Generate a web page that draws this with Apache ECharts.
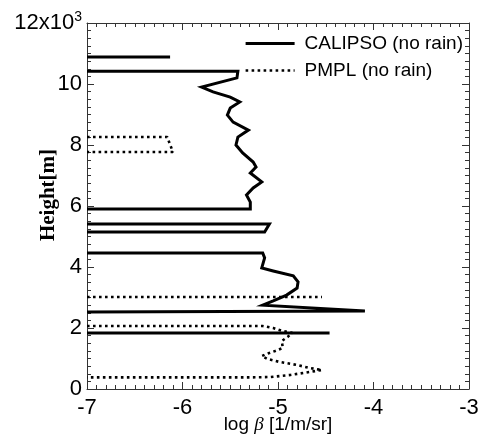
<!DOCTYPE html>
<html>
<head>
<meta charset="utf-8">
<script src="https://cdn.jsdelivr.net/npm/echarts@6/dist/echarts.min.js"></script>
<style>
html,body{margin:0;padding:0;background:#fff;}
#chart{width:483px;height:437px;}
</style>
</head>
<body>
<div id="chart"></div>
<script>
// ---- data (null = break between separate profile segments) ----
var seriesNames = ['CALIPSO (no rain)', 'PMPL (no rain)'];

var calipsoLogBeta = [
  -7, -6.13, null,
  -7, -5.42, -5.43, -5.80, -5.68, -5.50, -5.40, -5.50, -5.53, -5.47, -5.31, -5.42, -5.44,
  -5.37, -5.26, -5.23, -5.29, -5.17, -5.26, -5.33, -5.29, -5.29, -7, null,
  -7, -5.09, -5.14, -7, null,
  -7, -5.16, -5.14, -5.17, -5.05, -4.84, -4.79, -4.80, -4.91, -5.05, -5.16, -4.09, -7, null,
  -7, -4.46
];
var calipsoHeight = [
  10885, 10885, null,
  10420, 10420, 10200, 9900, 9740, 9570, 9410, 9210, 8980, 8750, 8490, 8260, 8000,
  7740, 7440, 7280, 7080, 6790, 6590, 6360, 6130, 5900, 5900, null,
  5410, 5410, 5150, 5150, null,
  4460, 4460, 4300, 3970, 3870, 3710, 3510, 3310, 3080, 2890, 2750, 2560, 2525, null,
  1840, 1840
];

var pmplLogBeta = [
  -7, -6.16, -6.10, -7, null,
  -7, -4.54, null,
  -7, -5.16, -5.05, -4.95, -4.85, -4.90, -4.96, -4.95, -5.03, -5.12, -5.17, -5.11,
  -4.98, -4.80, -4.67, -4.54, -4.67, -4.87, -5.08, -5.29, -7
];
var pmplHeight = [
  8260, 8260, 7770, 7770, null,
  3016, 3016, null,
  2066, 2066, 2000, 1900, 1840, 1705, 1575, 1345, 1245, 1150, 1080, 985,
  885, 787, 690, 623, 557, 460, 393, 380, 380
];

var xTickLabels = ['-7', '-6', '-5', '-4', '-3'];
var yTickLabels = ['0', '2', '4', '6', '8', '10', '{a|12x10}{b|3}'];

// ---- build ----
function zip(xs, ys) {
  var out = [];
  for (var i = 0; i < xs.length; i++) {
    if (xs[i] === null || ys[i] === null) out.push(['-', '-']);
    else out.push([xs[i], ys[i]]);
  }
  return out;
}

var FONT = 'Liberation Sans';
var frameColor = '#333';
var solidStyle = { color: '#000', width: 3, type: 'solid', join: 'miter' };
var dotStyle = { color: '#000', width: 2.6, type: [2.6, 3.4], cap: 'butt' };

function baseX(extra) {
  var o = {
    type: 'value', min: -7, max: -3, interval: 1,
    axisLine: { show: true, onZero: false, lineStyle: { color: frameColor, width: 1 } },
    axisTick: { show: true, inside: true, length: 7, lineStyle: { color: frameColor } },
    minorTick: { show: true, splitNumber: 10, length: 4, lineStyle: { color: frameColor } },
    splitLine: { show: false }, minorSplitLine: { show: false },
    axisLabel: { show: false }
  };
  for (var k in extra) o[k] = extra[k];
  return o;
}
function baseY(extra) {
  var o = {
    type: 'value', min: 0, max: 12000, interval: 2000,
    axisLine: { show: true, onZero: false, lineStyle: { color: frameColor, width: 1 } },
    axisTick: { show: true, inside: true, length: 7, lineStyle: { color: frameColor } },
    minorTick: { show: true, splitNumber: 8, length: 4, lineStyle: { color: frameColor } },
    splitLine: { show: false }, minorSplitLine: { show: false },
    axisLabel: { show: false }
  };
  for (var k in extra) o[k] = extra[k];
  return o;
}

var chart = echarts.init(document.getElementById('chart'), null, { renderer: 'canvas' });
chart.setOption({
  animation: false,
  backgroundColor: '#fff',
  textStyle: { fontFamily: FONT },
  grid: { left: 87, right: 14, top: 23, bottom: 48, outerBoundsMode: 'none', containLabel: false },
  legend: {
    orient: 'vertical', right: 15, top: 29,
    itemWidth: 49, itemHeight: 12, itemGap: 8,
    itemStyle: { color: 'rgba(0,0,0,0)', borderWidth: 0, opacity: 0 },
    textStyle: { fontSize: 19, color: '#000', fontFamily: FONT, padding: [0, 0, 0, 5] },
    data: [
      { name: seriesNames[0], lineStyle: { width: 3, type: 'solid', color: '#000' } },
      { name: seriesNames[1], lineStyle: { width: 2.6, type: [2.6, 3.4], color: '#000' } }
    ]
  },
  xAxis: [
    baseX({
      position: 'bottom',
      axisLabel: {
        show: true, margin: 8, fontSize: 22, color: '#000', fontFamily: FONT,
        showMinLabel: true, showMaxLabel: true,
        formatter: function (v) { return xTickLabels[Math.round(v + 7)]; }
      },
      name: '{a|log }{b|β}{a| [1/m/sr]}',
      nameLocation: 'middle', nameGap: 26, nameMoveOverlap: false,
      nameTextStyle: {
        rich: {
          a: { fontSize: 19, color: '#000', fontFamily: FONT },
          b: { fontSize: 19, color: '#000', fontFamily: 'Liberation Serif', fontStyle: 'italic' }
        }
      }
    }),
    baseX({ position: 'top' })
  ],
  yAxis: [
    baseY({
      position: 'left',
      axisLabel: {
        show: true, margin: 5, fontSize: 22, color: '#000', fontFamily: FONT,
        showMinLabel: true, showMaxLabel: true,
        formatter: function (v) { return yTickLabels[Math.round(v / 2000)]; },
        rich: {
          a: { fontSize: 22, color: '#000', fontFamily: FONT },
          b: { fontSize: 14, color: '#000', fontFamily: FONT, verticalAlign: 'bottom', padding: [0, 0, 12, 0] }
        }
      },
      name: 'Height[m]',
      nameLocation: 'middle', nameGap: 28, nameRotate: 90, nameMoveOverlap: false,
      nameTextStyle: { fontSize: 21, fontWeight: 'bold', color: '#000', fontFamily: 'Liberation Serif', padding: [0, 0, 0, 22] }
    }),
    baseY({ position: 'right' })
  ],
  series: [
    {
      name: seriesNames[0], type: 'line', xAxisIndex: 0, yAxisIndex: 0,
      data: zip(calipsoLogBeta, calipsoHeight),
      showSymbol: false, symbol: 'none', connectNulls: false, clip: true,
      lineStyle: solidStyle,
      itemStyle: { color: '#000' },
      z: 3
    },
    {
      name: seriesNames[1], type: 'line', xAxisIndex: 0, yAxisIndex: 0,
      data: zip(pmplLogBeta, pmplHeight),
      showSymbol: false, symbol: 'none', connectNulls: false, clip: true,
      lineStyle: dotStyle,
      itemStyle: { color: '#000' },
      z: 2
    }
  ]
});
</script>
</body>
</html>
